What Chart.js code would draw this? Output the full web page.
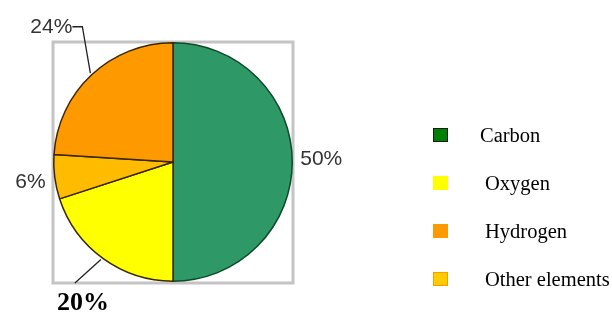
<!DOCTYPE html>
<html>
<head>
<meta charset="utf-8">
<script src="https://cdn.jsdelivr.net/npm/chart.js@4"></script>
<style>
  html, body { margin: 0; padding: 0; background: #fff; }
  canvas { display: block; }
</style>
</head>
<body>
<canvas id="elementsChart" width="612" height="312"></canvas>
<script>
// Categories in legend order
const categories = ['Carbon', 'Oxygen', 'Hydrogen', 'Other elements'];
const shares = [50, 20, 24, 6];  // percent
// Slices are drawn clockwise from the top in this order
const pieOrder = [0, 1, 3, 2];
const pieColors = ['#2E9966', '#FFFF00', '#FF9900', '#FFBB00'];
const legendColors = ['#008000', '#FFFF00', '#FF9900', '#FFCC00'];
const legendBorders = ['#1a1a1a', '#FFFF00', '#FF9900', '#FF9900'];

// Build the dataset in drawing order
const pieLabels = pieOrder.map(i => categories[i]);
const pieData = pieOrder.map(i => shares[i]);

// Box, percent labels with leader lines, and the legend on the right
const decorPlugin = {
    id: 'decor',
    beforeDatasetsDraw(chart) {
        const { ctx, chartArea } = chart;
        ctx.save();
        ctx.strokeStyle = '#c4c4c4';
        ctx.lineWidth = 3;
        ctx.strokeRect(chartArea.left, chartArea.top, chartArea.width, chartArea.height + 1);
        ctx.restore();
    },
    afterDraw(chart) {
        const { ctx } = chart;
        const arcs = chart.getDatasetMeta(0).data;
        ctx.save();

        arcs.forEach((arc, k) => {
            const cat = pieOrder[k];
            const mid = (arc.startAngle + arc.endAngle) / 2;
            const r = arc.outerRadius;
            const ex = arc.x + Math.cos(mid) * r;
            const ey = arc.y + Math.sin(mid) * r;
            const text = shares[cat] + '%';

            ctx.strokeStyle = '#222';
            ctx.lineWidth = 1.3;
            ctx.fillStyle = '#333';
            ctx.font = '21px "Liberation Sans", Arial, sans-serif';
            ctx.textBaseline = 'middle';

            if (cat === 0) {           // Carbon: right of the pie
                ctx.textAlign = 'left';
                ctx.fillText(text, ex + 8, ey - 3);
            } else if (cat === 3) {    // Other elements: left of the pie
                ctx.textAlign = 'right';
                ctx.fillText(text, ex - 9, ey + 5);
            } else if (cat === 2) {    // Hydrogen: leader line up to the top-left
                ctx.beginPath();
                ctx.moveTo(ex - 1, ey - 2);
                ctx.lineTo(ex - 9, arc.y - r - 16);
                ctx.lineTo(ex - 19, arc.y - r - 16);
                ctx.stroke();
                ctx.textAlign = 'right';
                ctx.fillText(text, ex - 19, arc.y - r - 16);
            } else if (cat === 1) {    // Oxygen: leader line down, bold label below the box
                ctx.beginPath();
                ctx.moveTo(ex - 2, ey + 1);
                ctx.lineTo(ex - 28, chart.chartArea.bottom + 1);
                ctx.stroke();
                ctx.fillStyle = '#000';
                ctx.font = 'bold 26px "Liberation Serif", "Times New Roman", serif';
                ctx.textAlign = 'center';
                ctx.fillText(text, ex - 20, chart.chartArea.bottom + 21);
            }
        });

        // Legend
        const lx = 433;
        const ly0 = 128;
        const step = 48;
        categories.forEach((name, i) => {
            const y = ly0 + i * step;
            ctx.fillStyle = legendColors[i];
            ctx.fillRect(lx, y, 15, 14);
            ctx.strokeStyle = legendBorders[i];
            ctx.lineWidth = 1;
            ctx.strokeRect(lx + 0.5, y + 0.5, 14, 13);
            ctx.fillStyle = '#000';
            ctx.font = '20.5px "Liberation Serif", "Times New Roman", serif';
            ctx.textAlign = 'left';
            ctx.textBaseline = 'middle';
            ctx.fillText(name, i === 0 ? 480 : 485, y + 9);
        });

        ctx.restore();
    }
};

const ctx = document.getElementById('elementsChart').getContext('2d');
new Chart(ctx, {
    type: 'pie',
    data: {
        labels: pieLabels,
        datasets: [{
            data: pieData,
            backgroundColor: pieOrder.map(i => pieColors[i]),
            borderColor: pieOrder.map(i => i === 0 ? '#0d4a28' : '#3a2600'),
            borderWidth: 1.5,
            hoverOffset: 0
        }]
    },
    options: {
        responsive: false,
        animation: false,
        devicePixelRatio: 1,
        layout: {
            padding: { left: 53, top: 42, right: 319, bottom: 30 }
        },
        plugins: {
            legend: { display: false },
            tooltip: { enabled: false }
        }
    },
    plugins: [decorPlugin]
});
</script>
</body>
</html>
